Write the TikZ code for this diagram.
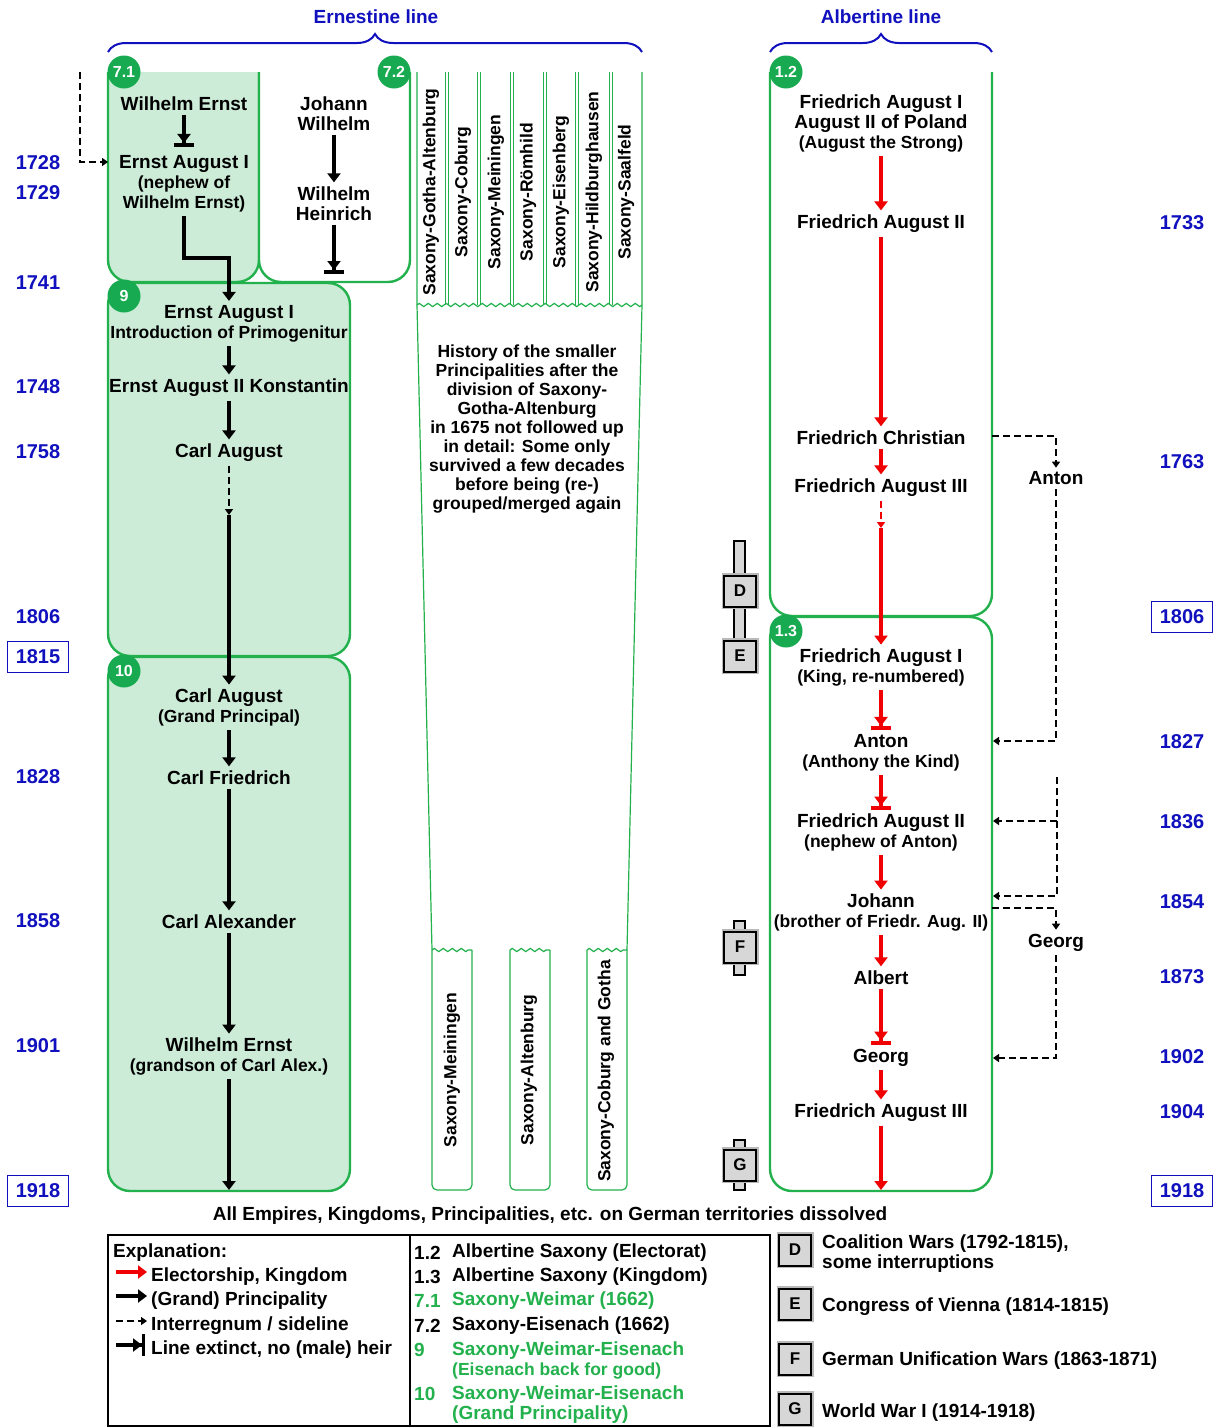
\documentclass[tikz,border=0pt]{standalone}
\usepackage{fontspec}
\setmainfont{Liberation Sans}
\usetikzlibrary{arrows.meta,decorations.pathmorphing,decorations.pathreplacing,calc}
\definecolor{gline}{RGB}{34,177,76}
\definecolor{gfill}{RGB}{204,236,216}
\definecolor{gbadge}{RGB}{24,170,80}
\definecolor{yblue}{RGB}{16,16,190}
\definecolor{ared}{RGB}{240,0,0}
\definecolor{mgray}{RGB}{215,215,215}
\definecolor{sgray}{RGB}{185,185,185}
\newcommand{\sml}[1]{{\fontsize{17.5}{20}\selectfont #1}}
\tikzset{
  nm/.style={font=\fontsize{19}{20}\selectfont\bfseries, align=center, inner sep=4pt, yshift=-1.5pt},
  yr/.style={font=\fontsize{20}{22}\selectfont\bfseries, text=yblue, inner sep=1pt, yshift=-1pt},
  yrbox/.style={yr, draw=yblue, line width=1.8pt, minimum width=61pt, minimum height=31pt},
  badge/.style={circle, fill=gbadge, text=white, font=\fontsize{16}{16}\selectfont\bfseries, minimum size=33pt, inner sep=0pt},
  gbox/.style={draw=gline, line width=2.4pt, rounded corners=22pt},
  gthin/.style={draw=gline, line width=1.2pt},
  redar/.style={draw=ared, line width=4pt, -{Triangle[width=13pt,length=9pt]}},
  redbar/.style={draw=ared, line width=4pt, -{Triangle[width=13pt,length=9pt]Bar[width=20pt]}},
  blkar/.style={draw=black, line width=4pt, -{Triangle[width=13pt,length=9pt]}},
  blkbar/.style={draw=black, line width=4pt, -{Triangle[width=13pt,length=9pt]Bar[width=20pt]}},
  dsh/.style={draw=black, line width=2pt, dash pattern=on 7pt off 4pt, -{Triangle[width=8pt,length=6pt]}},
  rdsh/.style={draw=ared, line width=2pt, dash pattern=on 7pt off 4pt, -{Triangle[width=8pt,length=6pt]}},
  rot/.style={rotate=90, font=\fontsize{17.5}{18}\selectfont\bfseries, inner sep=0pt},
  era/.style={draw=black, fill=mgray, line width=2pt, minimum width=32pt, minimum height=31pt, inner sep=0pt, font=\fontsize{17}{17}\selectfont\bfseries, preaction={draw=sgray, line width=5pt}},
  stub/.style={draw=black, fill=mgray, line width=1.5pt},
  lg/.style={font=\fontsize{19}{20}\selectfont\bfseries, anchor=west, inner sep=1pt, align=left, yshift=-2.5pt},
  mid/.style={font=\fontsize{17.5}{19}\selectfont\bfseries, align=center},
  brc/.style={draw=yblue, line width=2pt, decorate, decoration={brace, amplitude=18pt}},
  head/.style={font=\fontsize{19}{20}\selectfont\bfseries, text=yblue},
}
\begin{document}
\begin{tikzpicture}[x=1pt,y=-1pt]
\useasboundingbox (0,0) rectangle (1222,1427);
\fill[white] (0,0) rectangle (1222,1427);

% headings and braces
\node[head] (ern) at (376,17) {Ernestine line};
\node[head] (alb) at (881,17) {Albertine line};
\draw[brc] (108,52) -- (642,52);
\draw[brc] (770,52) -- (992,52);

% boxes
\begin{scope}
\clip (0,72) rectangle (1222,1427);
\draw[gbox, fill=gfill] (108,40) rectangle (259,282);
\draw[gbox, fill=white] (259,40) rectangle (410,282);
\draw[gbox, fill=white] (770,40) rectangle (992,616);
\end{scope}
\draw[gbox, fill=gfill] (108,283) rectangle (350,656);
\draw[gbox, fill=gfill] (108,657) rectangle (350,1191);
\draw[gbox, fill=white] (770,617) rectangle (992,1191);

% middle strips
\draw[gthin] (417,72) -- (417,305) -- (432,950);
\draw[gthin] (642,72) -- (642,305) -- (627,950);
\foreach \x in {447,479,512,545,577,611}
  \draw[draw=gline, line width=1pt, double=white, double distance=2pt] (\x,72) -- (\x,305);
\draw[gthin, decorate, decoration={zigzag, segment length=9pt, amplitude=1.6pt}] (417,305) -- (642,305);
\foreach \a/\b in {432/472, 510/550, 587/627}{
  \draw[gthin, rounded corners=5pt] (\a,950) -- (\a,1190) -- (\b,1190) -- (\b,950);
  \draw[gthin, decorate, decoration={zigzag, segment length=9pt, amplitude=1.6pt}] (\a,950) -- (\b,950);
}
\node[rot] (s1) at (431,192) {Saxony-Gotha-Altenburg};
\node[rot] (s2) at (463,192) {Saxony-Coburg};
\node[rot] (s3) at (496,192) {Saxony-Meiningen};
\node[rot] (s4) at (528,192) {Saxony-Römhild};
\node[rot] (s5) at (561,192) {Saxony-Eisenberg};
\node[rot] (s6) at (594,192) {Saxony-Hildburghausen};
\node[rot] (s7) at (626,192) {Saxony-Saalfeld};
\node[rot] (u1) at (452,1070) {Saxony-Meiningen};
\node[rot] (u2) at (529,1070) {Saxony-Altenburg};
\node[rot] (u3) at (606,1071) {Saxony-Coburg and Gotha};
\node[mid] (hist) at (527,429) {History of the smaller\\Principalities after the\\division of Saxony-\\Gotha-Altenburg\\in 1675 not followed up\\in detail: Some only\\survived a few decades\\before being (re-)\\grouped/merged again};

% badges
\node[badge] (b71) at (124,72) {7.1};
\node[badge] (b72) at (394,72) {7.2};
\node[badge] (b9) at (124,296) {9};
\node[badge] (b10) at (124,671) {10};
\node[badge] (b12) at (786,72) {1.2};
\node[badge] (b13) at (786,631) {1.3};

% Ernestine persons
\node[nm] (we1) at (184,102) {Wilhelm Ernst};
\node[nm] (ea1) at (184,182) {Ernst August I\\\sml{(nephew of}\\\sml{Wilhelm Ernst)}};
\node[nm] (jw) at (334,112) {Johann\\Wilhelm};
\node[nm] (wh) at (334,202) {Wilhelm\\Heinrich};
\node[nm] (ea9) at (229,322) {Ernst August I\\\sml{Introduction of Primogenitur}};
\node[nm] (eak) at (229,386) {Ernst August II Konstantin};
\node[nm] (ca9) at (229,451) {Carl August};
\node[nm] (ca10) at (229,706) {Carl August\\\sml{(Grand Principal)}};
\node[nm] (cf) at (229,776) {Carl Friedrich};
\node[nm] (cal) at (229,920) {Carl Alexander};
\node[nm] (we10) at (229,1055) {Wilhelm Ernst\\\sml{(grandson of Carl Alex.)}};

\coordinate (dtop) at (80,72);
\coordinate (b71L) at (108,162);
\coordinate (whend) at (334,274);
\coordinate (cmid) at (229,515);
\coordinate (endL) at (229,1190);
\draw[dsh] (dtop) |- (b71L);
\draw[blkbar, shorten >=4pt] (we1.south) -- (ea1.north);
\draw[blkar] (ea1.south) |- ($(ea1.south)!0.5!(ea9.north)$) -| (ea9.north);
\draw[blkar] (jw.south) -- (wh.north);
\draw[blkbar] (wh.south) -- (whend);
\draw[blkar] (ea9.south) -- (eak.north);
\draw[blkar] (eak.south) -- (ca9.north);
\draw[dsh] (ca9.south) -- (cmid);
\draw[blkar] (cmid) -- (ca10.north);
\draw[blkar] (ca10.south) -- (cf.north);
\draw[blkar] (cf.south) -- (cal.north);
\draw[blkar] (cal.south) -- (we10.north);
\draw[blkar] (we10.south) -- (endL);

% Albertine persons
\node[nm] (fa1) at (881,122) {Friedrich August I\\August II of Poland\\\sml{(August the Strong)}};
\node[nm] (fa2) at (881,222) {Friedrich August II};
\node[nm] (fc) at (881,436) {Friedrich Christian};
\node[nm] (fa3) at (881,486) {Friedrich August III};
\node[nm] (fak) at (881,666) {Friedrich August I\\\sml{(King, re-numbered)}};
\node[nm] (an) at (881,751) {Anton\\\sml{(Anthony the Kind)}};
\node[nm] (fa2k) at (881,831) {Friedrich August II\\\sml{(nephew of Anton)}};
\node[nm] (jo) at (881,911) {Johann\\\sml{(brother of Friedr. Aug. II)}};
\node[nm] (al) at (881,976) {Albert};
\node[nm] (ge) at (881,1056) {Georg};
\node[nm] (fa3k) at (881,1111) {Friedrich August III};
\coordinate (amid) at (881,528);
\coordinate (endR) at (881,1190);
\draw[redar] (fa1.south) -- (fa2.north);
\draw[redar] (fa2.south) -- (fc.north);
\draw[redar] (fc.south) -- (fa3.north);
\draw[rdsh] (fa3.south) -- (amid);
\draw[redar] (amid) -- (fak.north);
\draw[redbar] (fak.south) -- (an.north);
\draw[redbar] (an.south) -- (fa2k.north);
\draw[redar] (fa2k.south) -- (jo.north);
\draw[redar] (jo.south) -- (al.north);
\draw[redbar] (al.south) -- (ge.north);
\draw[redar] (ge.south) -- (fa3k.north);
\draw[redar] (fa3k.south) -- (endR);

% sidelines
\node[nm] (sAn) at (1056,477) {Anton};
\node[nm] (sGe) at (1056,941) {Georg};
\coordinate (fcE) at (992,436);
\coordinate (anE) at (993,741);
\coordinate (s2top) at (1057,777);
\coordinate (s2mid) at (1057,821);
\coordinate (fa2kE) at (993,821);
\coordinate (joE) at (993,896);
\coordinate (joE2) at (992,908);
\coordinate (geE) at (993,1058);
\draw[dsh] (fcE) -| (sAn.north);
\draw[dsh] (sAn.south) |- (anE);
\draw[dsh] (s2top) |- (joE);
\draw[dsh] (s2mid) -- (fa2kE);
\draw[dsh] (joE2) -| (sGe.north);
\draw[dsh] (sGe.south) |- (geE);

% era markers
\draw[stub] (734,541) rectangle (745,575);
\draw[stub] (734,605) rectangle (745,640);
\draw[stub] (734,921) rectangle (745,933);
\draw[stub] (734,962) rectangle (745,975);
\draw[stub] (734,1140) rectangle (745,1151);
\draw[stub] (734,1180) rectangle (745,1190);
\node[era] (eD) at (740,591) {D};
\node[era] (eE) at (740,656) {E};
\node[era] (eF) at (740,947) {F};
\node[era] (eG) at (740,1165) {G};

% years
\node[yr] (y1728) at (38,162) {1728};
\node[yr] (y1729) at (38,192) {1729};
\node[yr] (y1741) at (38,282) {1741};
\node[yr] (y1748) at (38,386) {1748};
\node[yr] (y1758) at (38,451) {1758};
\node[yr] (y1806l) at (38,616) {1806};
\node[yrbox] (y1815) at (38,656) {1815};
\node[yr] (y1828) at (38,776) {1828};
\node[yr] (y1858) at (38,920) {1858};
\node[yr] (y1901) at (38,1045) {1901};
\node[yrbox] (y1918l) at (38,1190) {1918};
\node[yr] (y1733) at (1182,222) {1733};
\node[yr] (y1763) at (1182,461) {1763};
\node[yrbox] (y1806r) at (1182,616) {1806};
\node[yr] (y1827) at (1182,741) {1827};
\node[yr] (y1836) at (1182,821) {1836};
\node[yr] (y1854) at (1182,901) {1854};
\node[yr] (y1873) at (1182,976) {1873};
\node[yr] (y1902) at (1182,1056) {1902};
\node[yr] (y1904) at (1182,1111) {1904};
\node[yrbox] (y1918r) at (1182,1190) {1918};

\node[nm] (diss) at (550,1214) {All Empires, Kingdoms, Principalities, etc. on German territories dissolved};

% legend
\draw[line width=2pt] (108,1235) rectangle (770,1426);
\draw[line width=2pt] (410,1235) -- (410,1426);
\node[lg] (lgT) at (112,1250) {Explanation:};
\node[lg] (lg1) at (150,1274) {Electorship, Kingdom};
\node[lg] (lg2) at (150,1298) {(Grand) Principality};
\node[lg] (lg3) at (150,1323) {Interregnum / sideline};
\node[lg] (lg4) at (150,1347) {Line extinct, no (male) heir};
\coordinate (i1) at (116,1272);
\coordinate (i2) at (116,1296);
\coordinate (i3) at (116,1321);
\coordinate (i4) at (116,1345);
\draw[redar, line width=3.5pt, shorten >=3pt] (i1) -- (i1 -| lg1.west);
\draw[blkar, line width=3.5pt, shorten >=3pt] (i2) -- (i2 -| lg2.west);
\draw[dsh, shorten >=3pt] (i3) -- (i3 -| lg3.west);
\draw[draw=black, line width=3.5pt, -{Triangle[width=13pt,length=9pt]Bar[width=22pt,line width=3pt]}, shorten >=5pt] (i4) -- (i4 -| lg4.west);

\node[lg] (n12) at (413,1250) {1.2};
\node[lg] (t12) at (451,1250) {Albertine Saxony (Electorat)};
\node[lg] (n13) at (413,1274) {1.3};
\node[lg] (t13) at (451,1274) {Albertine Saxony (Kingdom)};
\node[lg, text=gline] (n71) at (413,1298) {7.1};
\node[lg, text=gline] (t71) at (451,1298) {Saxony-Weimar (1662)};
\node[lg] (n72) at (413,1323) {7.2};
\node[lg] (t72) at (451,1323) {Saxony-Eisenach (1662)};
\node[lg, text=gline] (n9) at (413,1347) {9};
\node[lg, text=gline] (t9) at (451,1358) {Saxony-Weimar-Eisenach\\\sml{(Eisenach back for good)}};
\node[lg, text=gline] (n10) at (413,1391) {10};
\node[lg, text=gline] (t10) at (451,1402) {Saxony-Weimar-Eisenach\\(Grand Principality)};

\node[era] (kD) at (795,1250) {D};
\node[lg] (kDt) at (821,1251) {Coalition Wars (1792-1815),\\some interruptions};
\node[era] (kE) at (795,1304) {E};
\node[lg] (kEt) at (821,1304) {Congress of Vienna (1814-1815)};
\node[era] (kF) at (795,1359) {F};
\node[lg] (kFt) at (821,1358) {German Unification Wars (1863-1871)};
\node[era] (kG) at (795,1409) {G};
\node[lg] (kGt) at (821,1410) {World War I (1914-1918)};
\end{tikzpicture}
\end{document}
